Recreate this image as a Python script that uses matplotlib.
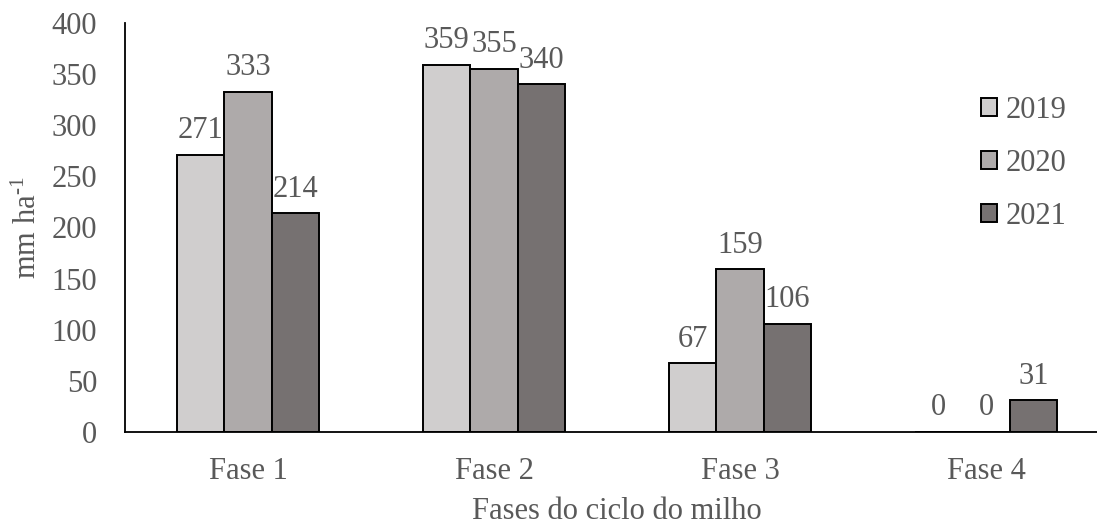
import matplotlib
matplotlib.use("Agg")
import matplotlib.pyplot as plt
import numpy as np

categories = ["Fase 1", "Fase 2", "Fase 3", "Fase 4"]
years = ["2019", "2020", "2021"]
values_2019 = [271, 359, 67, 0]
values_2020 = [333, 355, 159, 0]
values_2021 = [214, 340, 106, 31]
series = [values_2019, values_2020, values_2021]
colors = ["#D0CECE", "#AEAAAA", "#767171"]
yticks = [0, 50, 100, 150, 200, 250, 300, 350, 400]

plt.rcParams["font.family"] = ["Liberation Serif", "DejaVu Serif"]
plt.rcParams["mathtext.fontset"] = "custom"
plt.rcParams["mathtext.rm"] = "Liberation Serif"
plt.rcParams["mathtext.it"] = "Liberation Serif:italic"

text_color = "#595959"
fs = 22

W, H = 1097, 529
fig = plt.figure(figsize=(W / 100, H / 100), dpi=100)
ax = fig.add_axes([125 / W, (H - 432) / H, 984 / W, 409 / H])

x = np.arange(len(categories))
bw = 0.193
for i, (vals, c, yr) in enumerate(zip(series, colors, years)):
    pos = x + (i - 1) * bw
    ax.bar(pos, vals, width=bw, color=c, edgecolor="black",
           linewidth=1.4, label=yr, zorder=2)
    for px, v in zip(pos, vals):
        ax.annotate(f"{v}", (px, v), xytext=(0, 12), textcoords="offset points",
                    ha="center", va="baseline", fontsize=fs, color=text_color)

ax.set_xlim(-0.5, 3.5)
ax.set_ylim(0, 400)
ax.set_yticks(yticks)
ax.set_xticks(x)
ax.set_xticklabels(categories)
ax.tick_params(axis="both", length=0, labelsize=fs, labelcolor=text_color)
ax.tick_params(axis="y", pad=20)
ax.tick_params(axis="x", pad=18)

for s in ["top", "right"]:
    ax.spines[s].set_visible(False)
ax.spines["left"].set_linewidth(1.3)
ax.spines["bottom"].set_linewidth(1.3)

ax.set_ylabel("mm ha$^{\\mathregular{\u20101}}$", fontsize=fs, color=text_color, labelpad=6)
ax.set_xlabel("Fases do ciclo do milho", fontsize=fs, color=text_color, labelpad=8)

leg = ax.legend(loc="upper left", frameon=False, fontsize=fs,
                handlelength=0.52, handleheight=0.52, handletextpad=0.3,
                labelspacing=0.78, labelcolor=text_color,
                borderaxespad=0, borderpad=0)
leg.set_bbox_to_anchor((981 / W, (H - 96) / H), transform=fig.transFigure)

fig.savefig("out.png", dpi=100)
